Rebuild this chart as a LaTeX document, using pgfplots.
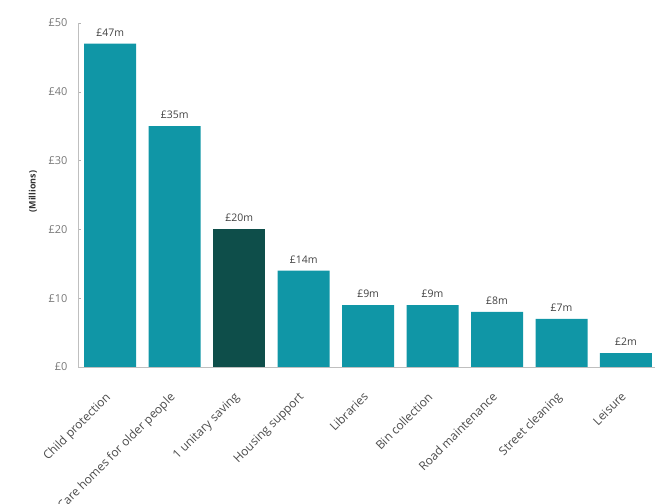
\documentclass[border=0pt]{standalone}
\usepackage{pgfplots}
\pgfplotsset{compat=1.18}
\usepackage{fontspec}
\setmainfont{Open Sans}
\definecolor{barteal}{RGB}{16,150,166}
\definecolor{bardark}{RGB}{14,78,74}
\definecolor{txtgray}{RGB}{120,120,120}
\begin{document}
\begin{tikzpicture}
\begin{axis}[
  scale only axis, width=577bp, height=344bp,
  xmin=-0.5, xmax=8.45, ymin=0, ymax=50,
  axis x line*=bottom, axis y line*=left,
  axis line style={draw=black!25},
  ytick={0,10,20,30,40,50},
  yticklabel={£\pgfmathprintnumber[assume math mode=true]{\tick}},
  y tick label style={font=\fontsize{11}{12}\selectfont, text=txtgray, xshift=-7bp},
  ytick style={draw=black!30}, major tick length=3bp,
  xtick={0,...,8},
  xticklabels={Child protection, Care homes for older people, 1 unitary saving, Housing support, Libraries, Bin collection, Road maintenance, Street cleaning, Leisure},
  x tick label style={rotate=45, anchor=north east, font=\fontsize{12}{13}\selectfont, text=black!70, inner sep=1bp, yshift=-10bp, xshift=-18bp},
  xtick style={draw=none},
  ylabel={\textbf{(Millions)}},
  ylabel style={at={(axis description cs:-0.078,0.51)}, anchor=center, font=\fontsize{9}{10}\selectfont, text=black!80},
  ybar, bar width=52bp, bar shift=0pt,
  nodes near coords={£\pgfmathprintnumber[assume math mode=true]{\pgfplotspointmeta}m},
  every node near coord/.append style={font=\fontsize{10.5}{11}\selectfont, text=black!75, yshift=4bp},
  clip=false,
]
\addplot[fill=barteal, draw=none] coordinates {(0,47) (1,35) (3,14) (4,9) (5,9) (6,8) (7,7) (8,2)};
\addplot[fill=bardark, draw=none] coordinates {(2,20)};
\end{axis}
\pgfresetboundingbox
\path[use as bounding box] ([shift={(-78bp,-137bp)}]current axis.south west) rectangle ([shift={(1bp,23bp)}]current axis.north east);
\end{tikzpicture}
\end{document}
